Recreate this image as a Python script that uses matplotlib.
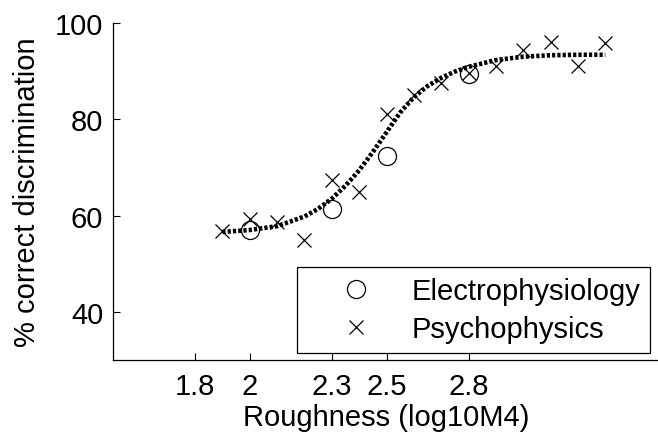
import matplotlib
matplotlib.use("Agg")
import matplotlib.pyplot as plt

plt.rcParams['font.family'] = ['Liberation Sans', 'DejaVu Sans']

# Electrophysiology data (circles)
electro_x = [2.0, 2.3, 2.5, 2.8]
electro_y = [57.0, 61.3, 72.4, 89.4]

# Psychophysics data (crosses)
psych_x = [1.9, 2.0, 2.1, 2.2, 2.3, 2.4, 2.5, 2.6, 2.7, 2.8, 2.9, 3.0, 3.1, 3.2, 3.3]
psych_y = [56.7, 59.3, 58.6, 55.0, 67.4, 65.0, 81.0, 85.1, 87.6, 89.7, 91.1, 94.4, 96.0, 91.1, 95.8]

# Fitted curve
fit_x = [1.90, 2.00, 2.10, 2.20, 2.25, 2.30, 2.35, 2.40, 2.45, 2.50, 2.55,
         2.60, 2.65, 2.70, 2.75, 2.80, 2.90, 3.00, 3.10, 3.20, 3.30]
fit_y = [56.6, 57.0, 57.8, 59.8, 61.4, 63.5, 66.2, 69.4, 73.2, 77.3, 81.4,
         84.6, 86.9, 88.6, 89.9, 90.9, 92.3, 93.0, 93.3, 93.4, 93.4]

x_ticks = [1.8, 2.0, 2.3, 2.5, 2.8]
x_ticklabels = ['1.8', '2', '2.3', '2.5', '2.8']
y_ticks = [40, 60, 80, 100]

FS = 21

fig = plt.figure(figsize=(6.58, 4.39), dpi=100)
ax = fig.add_axes([113/658, 1 - 361/439, 547/658, (361 - 24)/439])

ax.plot(fit_x, fit_y, color='black', lw=3.3, linestyle=(0, (0.7, 0.45)),
        dash_capstyle='butt', solid_capstyle='butt', zorder=2)
ax.plot(electro_x, electro_y, linestyle='none', marker='o', markersize=13,
        markerfacecolor='none', markeredgecolor='black', markeredgewidth=0.9,
        label='Electrophysiology', zorder=3)
ax.plot(psych_x, psych_y, linestyle='none', marker='x', markersize=9.6,
        color='black', markeredgewidth=0.9, label='Psychophysics', zorder=3)

ax.set_xlim(1.5, 3.5)
ax.set_ylim(30, 100)
ax.set_xticks(x_ticks)
ax.set_xticklabels(x_ticklabels)
ax.set_yticks(y_ticks)
ax.tick_params(direction='in', length=5, width=0.8, labelsize=FS, colors='black')
ax.tick_params(axis='y', pad=7)
ax.tick_params(axis='x', pad=9)
for s in ['top', 'right']:
    ax.spines[s].set_visible(False)
for s in ['left', 'bottom']:
    ax.spines[s].set_linewidth(0.9)

ax.set_xlabel('Roughness (log10M4)', fontsize=FS, labelpad=2)
ax.set_ylabel('% correct discrimination', fontsize=FS, labelpad=10)

leg = ax.legend(loc='lower right', bbox_to_anchor=(0.9817, 0.022), fontsize=FS,
                frameon=True, fancybox=False, edgecolor='black', framealpha=1,
                borderpad=0.33, handlelength=3.4, handletextpad=0.2,
                labelspacing=0.35, borderaxespad=0)
leg.get_frame().set_linewidth(0.9)

fig.savefig('out.png', dpi=100)
